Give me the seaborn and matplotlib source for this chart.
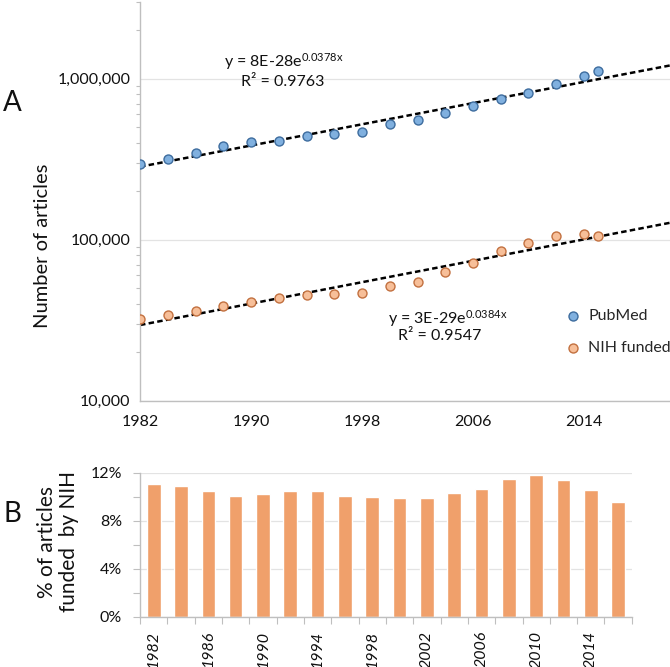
import numpy as np
import pandas as pd
import seaborn as sns
import matplotlib.pyplot as plt
from matplotlib.ticker import FuncFormatter, FixedLocator, LogLocator, NullFormatter

sns.set_style("white")
plt.rcParams['font.family'] = ['Lato', 'DejaVu Sans']
plt.rcParams['mathtext.default'] = 'regular'

years = [1982, 1984, 1986, 1988, 1990, 1992, 1994, 1996, 1998,
         2000, 2002, 2004, 2006, 2008, 2010, 2012, 2014, 2015]
pubmed = [294000, 316000, 348000, 383000, 407000, 413000, 438000, 455000, 466000,
          525000, 556000, 613000, 681000, 747000, 817000, 928000, 1044000, 1110000]
nih = [32400, 34300, 36300, 38600, 41300, 43300, 45300, 45700, 46600,
       51400, 55000, 63400, 71800, 85700, 95700, 105000, 109000, 105000]
bar_labels = ["1982", "1984", "1986", "1988", "1990", "1992", "1994", "1996", "1998",
              "2000", "2002", "2004", "2006", "2008", "2010", "2012", "2014", "2016"]
nih_pct = [11.06, 10.92, 10.47, 10.06, 10.25, 10.52, 10.52, 10.08, 10.0,
           9.94, 9.94, 10.36, 10.69, 11.53, 11.81, 11.42, 10.56, 9.56]

blue_fill, blue_edge = "#80B0DF", "#3D6C9E"
orange_fill, orange_edge = "#F7BF99", "#C2703F"
bar_color = "#F0A06B"
spine_gray = "#BFBFBF"
grid_gray = "#E3E3E3"
text_col = "#111111"

df = pd.DataFrame({"year": years, "PubMed": pubmed, "NIH": nih})

fig = plt.figure(figsize=(6.7, 6.67), dpi=100)

# ---- panel A
ax = fig.add_axes([0.209, 0.3993, 0.791, 0.5977])
ax.set_yscale("log")
x_end = 2020.2

# exponential trend lines
xs = np.linspace(1982, x_end, 50)
for col in ["PubMed", "NIH"]:
    b, a = np.polyfit(df["year"], np.log(df[col]), 1)
    ax.plot(xs, np.exp(a + b * xs), color="black", lw=1.8, ls=(0, (2.2, 1.3)), zorder=2)

sns.scatterplot(data=df, x="year", y="PubMed", ax=ax, color=blue_fill, edgecolor=blue_edge,
                linewidth=1, s=42, zorder=3, label="PubMed")
sns.scatterplot(data=df, x="year", y="NIH", ax=ax, color=orange_fill, edgecolor=orange_edge,
                linewidth=1, s=42, zorder=3, label="NIH funded")

ax.set_xlim(1982, x_end)
ax.set_ylim(1e4, 3e6)
ax.set_xlabel("")
ax.set_ylabel("")

xt = list(range(1982, 2021, 4))
ax.set_xticks(xt)
ax.set_xticklabels([str(t) if (t - 1982) % 8 == 0 else "" for t in xt])
ax.yaxis.set_major_locator(FixedLocator([1e4, 1e5, 1e6]))
ax.yaxis.set_major_formatter(FuncFormatter(lambda v, p: f"{int(v):,}"))
ax.yaxis.set_minor_locator(LogLocator(base=10, subs=np.arange(2, 10)))
ax.yaxis.set_minor_formatter(NullFormatter())
ax.tick_params(axis="x", which="major", direction="out", length=4, width=0.8, color=spine_gray,
               labelsize=11.5, labelcolor=text_col, pad=6)
ax.tick_params(axis="y", which="major", direction="out", length=4, width=0.8, color=spine_gray,
               labelsize=11.5, labelcolor=text_col, pad=3)
ax.tick_params(axis="y", which="minor", direction="out", length=3, width=0.8, color=spine_gray, left=True)
ax.yaxis.grid(True, which="major", color=grid_gray, lw=0.9)
ax.xaxis.grid(False)
for s in ["top", "right"]:
    ax.spines[s].set_visible(False)
for s in ["left", "bottom"]:
    ax.spines[s].set_color(spine_gray)
    ax.spines[s].set_linewidth(1)

ax.text(1992.4, 1.276e6, "y = 8E-28e$^{0.0378x}$", ha="center", va="center", fontsize=11.5, color=text_col)
ax.text(1992.3, 9.57e5, "R² = 0.9763", ha="center", va="center", fontsize=11.5, color=text_col)
ax.text(2004.2, 3.26e4, "y = 3E-29e$^{0.0384x}$", ha="center", va="center", fontsize=11.5, color=text_col)
ax.text(2003.6, 2.52e4, "R² = 0.9547", ha="center", va="center", fontsize=11.5, color=text_col)

ax.legend(loc="upper left", bbox_to_anchor=(0.801, 0.231), frameon=False, fontsize=11.5,
          handlelength=1.0, handletextpad=0.5, labelspacing=1.15, borderpad=0, borderaxespad=0)

fig.text(0.018, 0.846, "A", fontsize=20, ha="center", va="center", color=text_col)
fig.text(0.063, 0.631, "Number of articles", fontsize=14.5, rotation=90, ha="center", va="center",
         color=text_col)

# ---- panel B
bx = fig.add_axes([0.209, 0.075, 0.734, 0.216])
sns.barplot(x=bar_labels, y=nih_pct, ax=bx, color=bar_color, saturation=1, width=0.5)
bx.set_xlim(-0.5, len(bar_labels) - 0.5)
bx.set_ylim(0, 12)
bx.set_yticks([0, 4, 8, 12])
bx.set_yticks([2, 6, 10], minor=True)
bx.yaxis.set_major_formatter(FuncFormatter(lambda v, p: f"{int(v)}%"))
bx.set_xticks(range(len(bar_labels)))
bx.set_xticklabels([lab if i % 2 == 0 else "" for i, lab in enumerate(bar_labels)],
                   rotation=90, fontstyle="italic")
bx.set_xticks(np.arange(-0.5, len(bar_labels), 1), minor=True)
bx.tick_params(axis="x", which="major", length=0, labelsize=11.5, labelcolor=text_col, pad=10)
bx.tick_params(axis="x", which="minor", direction="out", length=5, width=0.8, color=spine_gray, bottom=True)
bx.tick_params(axis="y", which="both", direction="out", length=5, width=0.8, color=spine_gray,
               labelsize=11.5, labelcolor=text_col, pad=8, left=True)
bx.yaxis.grid(True, which="major", color=grid_gray, lw=0.9)
bx.set_axisbelow(True)
for s in ["top", "right"]:
    bx.spines[s].set_visible(False)
for s in ["left", "bottom"]:
    bx.spines[s].set_color(spine_gray)
    bx.spines[s].set_linewidth(1)

fig.text(0.019, 0.23, "B", fontsize=20, ha="center", va="center", color=text_col)
fig.text(0.087, 0.188, "% of articles\nfunded  by NIH", fontsize=15, rotation=90, ha="center",
         va="center", color=text_col, linespacing=1.1)

fig.savefig("out.png", dpi=100)
